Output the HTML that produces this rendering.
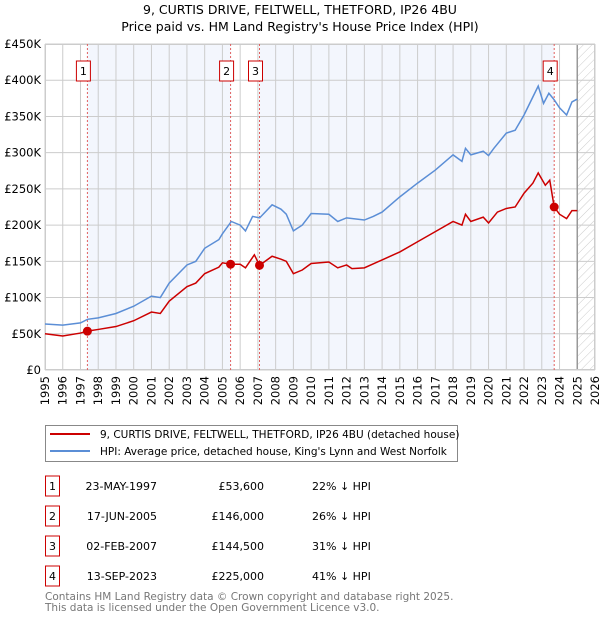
<!DOCTYPE html>
<html><head><meta charset="utf-8">
<style>
body{margin:0;background:#fff;font-family:"DejaVu Sans","Liberation Sans",sans-serif;}
svg text{font-family:"DejaVu Sans","Liberation Sans",sans-serif;}
</style></head>
<body>
<svg id="chart" width="600" height="620" viewBox="0 0 600 620" xmlns="http://www.w3.org/2000/svg">
<defs>
<pattern id="hatch" width="6" height="6" patternUnits="userSpaceOnUse" patternTransform="rotate(45)">
<line x1="0" y1="0" x2="0" y2="6" stroke="#ccc" stroke-width="1"/>
</pattern>
</defs>
<text x="300" y="14" text-anchor="middle" font-size="12.5">9, CURTIS DRIVE, FELTWELL, THETFORD, IP26 4BU</text>
<text x="300" y="31" text-anchor="middle" font-size="12.5">Price paid vs. HM Land Registry's House Price Index (HPI)</text>
<g id="plot"></g>
<g>
<rect x="45.5" y="425.5" width="412" height="36" fill="#fff" stroke="#888"/>
<line x1="50" y1="434" x2="90" y2="434" stroke="#cc0000" stroke-width="2"/>
<text x="100" y="438" font-size="10.5">9, CURTIS DRIVE, FELTWELL, THETFORD, IP26 4BU (detached house)</text>
<line x1="50" y1="451" x2="90" y2="451" stroke="#5b8ed6" stroke-width="2"/>
<text x="100" y="455" font-size="10.5">HPI: Average price, detached house, King's Lynn and West Norfolk</text>
</g>
<g id="table"></g>
<text x="45" y="600" font-size="10.5" fill="#777">Contains HM Land Registry data © Crown copyright and database right 2025.</text>
<text x="45" y="611" font-size="10.5" fill="#777">This data is licensed under the Open Government Licence v3.0.</text>
</svg>
<script>
const hpiYears=[1995,1996,1997,1997.4,1998,1999,2000,2001,2001.5,2002,2003,2003.5,2004,2004.8,2005,2005.5,2006,2006.3,2006.7,2007.1,2007.8,2008.3,2008.6,2009,2009.5,2010,2011,2011.5,2012,2013,2013.5,2014,2015,2016,2017,2018,2018.5,2018.7,2019,2019.7,2020,2020.3,2021,2021.5,2022,2022.5,2022.8,2023.1,2023.4,2023.7,2024,2024.4,2024.7,2025];
const hpiValues=[63.5,62,65,70,72,78,88,102,100,120,145,150,168,180,188,205,200,192,212,210,228,222,215,192,200,216,215,205,210,207,212,218,239,258,276,297,288,306,297,302,296,306,327,331,352,377,392,368,382,373,362,352,370,374];
const redYears=[1995,1996,1997,1997.39,1998,1999,2000,2001,2001.5,2002,2003,2003.5,2004,2004.8,2005,2005.46,2006,2006.3,2006.8,2007.09,2007.8,2008.3,2008.6,2009,2009.5,2010,2011,2011.5,2012,2012.3,2013,2014,2015,2016,2017,2018,2018.5,2018.7,2019,2019.7,2020,2020.5,2021,2021.5,2022,2022.5,2022.8,2023.2,2023.45,2023.7,2024,2024.4,2024.7,2025];
const redValues=[50,47,51,53.6,56,60,68,80,78,95,115,120,133,142,148,146,146,141,159,144.5,157,153,150,133,138,147,149,141,145,140,141,152,163,177,191,205,200,215,205,211,203,218,223,225,244,258,272,255,262,225,215,209,220,220];
const saleLabels=["1","2","3","4"];
const saleYears=[1997.39,2005.46,2007.09,2023.7];
const salePrices=[53.6,146,144.5,225];
const saleDates=["23-MAY-1997","17-JUN-2005","02-FEB-2007","13-SEP-2023"];
const salePriceText=["£53,600","£146,000","£144,500","£225,000"];
const saleHpiText=["22% ↓ HPI","26% ↓ HPI","31% ↓ HPI","41% ↓ HPI"];
const yTicks=[0,50,100,150,200,250,300,350,400,450];
const yTickLabels=["£0","£50K","£100K","£150K","£200K","£250K","£300K","£350K","£400K","£450K"];
const xTicks=[1995,1996,1997,1998,1999,2000,2001,2002,2003,2004,2005,2006,2007,2008,2009,2010,2011,2012,2013,2014,2015,2016,2017,2018,2019,2020,2021,2022,2023,2024,2025,2026];

const X0=45,X1=595,Y0=370,Y1=44;
const x=v=>X0+(v-1995)*(X1-X0)/31;
const y=v=>Y0-v*(Y0-Y1)/450;
const NS="http://www.w3.org/2000/svg";
const plot=document.getElementById('plot');
function mk(tag,attrs,parent){const e=document.createElementNS(NS,tag);for(const k in attrs)e.setAttribute(k,attrs[k]);(parent||plot).appendChild(e);return e;}

let e;
e=mk('rect',{x:X0,y:Y1,width:X1-X0,height:Y0-Y1,fill:'#fff'});

e=mk('rect',{x:x(saleYears[0]),y:Y1,width:x(saleYears[1])-x(saleYears[0]),height:Y0-Y1,fill:'#f3f6fd'});

e=mk('rect',{x:x(saleYears[2]),y:Y1,width:x(saleYears[3])-x(saleYears[2]),height:Y0-Y1,fill:'#f3f6fd'});

e=mk('rect',{x:x(2025),y:Y1,width:X1-x(2025),height:Y0-Y1,fill:'url(#hatch)'});


yTicks.forEach((t,i)=>{
  let g=mk('line',{x1:X0,x2:X1,y1:y(t),y2:y(t),stroke:'#ccc','stroke-width':1});
  
  let l=mk('text',{x:X0-4,y:y(t)+4,'text-anchor':'end','font-size':11.5});
  
  l.textContent=yTickLabels[i];
});
xTicks.forEach(t=>{
  let g=mk('line',{x1:x(t),x2:x(t),y1:Y1,y2:Y0,stroke:'#ccc','stroke-width':1});
  
  let l=mk('text',{x:0,y:0,'text-anchor':'end','font-size':11.5,transform:`translate(${x(t)+4},${Y0+6}) rotate(-90)`});
  
  l.textContent=t;
});
e=mk('line',{x1:x(2025),x2:x(2025),y1:Y1,y2:Y0,stroke:'#999','stroke-width':1.5});

e=mk('rect',{x:X0+0.5,y:Y1+0.5,width:X1-X0-1,height:Y0-Y1-1,fill:'none',stroke:'#ccc'});


saleYears.forEach((s,i)=>{
  let v=mk('line',{x1:x(s),x2:x(s),y1:Y1,y2:Y0,stroke:'#e06060','stroke-width':1,'stroke-dasharray':'2,2'});
  
});
e=mk('polyline',{points:hpiYears.map((t,i)=>x(t)+','+y(hpiValues[i])).join(' '),fill:'none',stroke:'#5b8ed6','stroke-width':1.5});

e=mk('polyline',{points:redYears.map((t,i)=>x(t)+','+y(redValues[i])).join(' '),fill:'none',stroke:'#cc0000','stroke-width':1.5});

saleYears.forEach((s,i)=>{
  let c=mk('circle',{cx:x(s),cy:y(salePrices[i]),r:4.5,fill:'#cc0000'});
  
  let b=mk('rect',{x:x(s)-11,y:61,width:14,height:20,fill:'#fff',stroke:'#cc0000'});
  
  let t=mk('text',{x:x(s)-4,y:75,'text-anchor':'middle','font-size':11});
  
  t.textContent=saleLabels[i];
});

const tbl=document.getElementById('table');
saleLabels.forEach((lab,i)=>{
  const cy=486+i*30;
  let b=mk('rect',{x:45.5,y:cy-10,width:14,height:20,fill:'#fff',stroke:'#cc0000'},tbl);
  
  let t=mk('text',{x:52.5,y:cy+4,'text-anchor':'middle','font-size':11},tbl);
  t.textContent=lab;
  let d=mk('text',{x:157,y:cy+4,'text-anchor':'end','font-size':11},tbl);
  d.textContent=saleDates[i];
  let p=mk('text',{x:264,y:cy+4,'text-anchor':'end','font-size':11},tbl);
  p.textContent=salePriceText[i];
  let h=mk('text',{x:312,y:cy+4,'font-size':11},tbl);
  h.textContent=saleHpiText[i];
});
</script>
</body></html>
